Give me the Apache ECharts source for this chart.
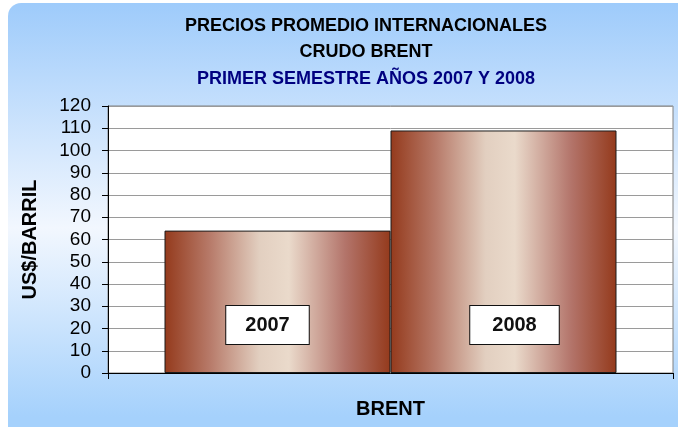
<!DOCTYPE html>
<html>
<head>
<meta charset="utf-8">
<script src="https://cdn.jsdelivr.net/npm/echarts@6/dist/echarts.min.js"></script>
<style>
  html, body { margin: 0; padding: 0; background: #fff; }
  #chart { width: 678px; height: 427px; }
</style>
</head>
<body>
<div id="chart"></div>
<script>
// datos del grafico
const categories = ["BRENT"];
const years = ["2007", "2008"];
const brent2007 = [64];
const brent2008 = [109];
const yMin = 0;
const yMax = 120;
const yStep = 10;

const titleLines = [
  "PRECIOS PROMEDIO INTERNACIONALES",
  "CRUDO BRENT",
  "PRIMER SEMESTRE AÑOS 2007 Y 2008"
];

const font = "'Liberation Sans', Arial, sans-serif";

// degradado horizontal de las barras
const barFill = new echarts.graphic.LinearGradient(0, 0, 1, 0, [
  { offset: 0, color: "#943a1c" },
  { offset: 0.2, color: "#b77a69" },
  { offset: 0.42, color: "#e2cfc0" },
  { offset: 0.55, color: "#eadacb" },
  { offset: 0.8, color: "#b3746a" },
  { offset: 1, color: "#943a1c" }
]);

function yearLabel(offsetX, padX) {
  return {
    show: true,
    position: "insideBottom",
    distance: 29,
    offset: [offsetX, 0],
    formatter: "{a}",
    fontFamily: font,
    fontWeight: "bold",
    fontSize: 20,
    lineHeight: 20,
    color: "#111",
    backgroundColor: "#fff",
    borderColor: "#111",
    borderWidth: 1,
    padding: [9, padX]
  };
}

const chart = echarts.init(document.getElementById("chart"));
chart.setOption({
  backgroundColor: "#fff",
  animation: false,
  graphic: [
    {
      type: "rect",
      z: -10,
      shape: { x: 8, y: 3, width: 690, height: 450, r: 13 },
      style: {
        fill: new echarts.graphic.LinearGradient(0, 0, 0, 1, [
          { offset: 0, color: "#9ecbfb" },
          { offset: 0.5, color: "#f2f7fe" },
          { offset: 0.92, color: "#a5d1fc" },
          { offset: 1, color: "#a5d1fc" }
        ])
      },
      silent: true
    }
  ],
  title: titleLines.map((t, i) => ({
    text: t,
    left: 361,
    top: 12 + i * 26.5,
    textAlign: "center",
    textStyle: {
      fontFamily: font,
      fontWeight: "bold",
      fontSize: 18,
      color: i === 2 ? "#000080" : "#000"
    }
  })),
  grid: {
    left: 108,
    right: 5,
    top: 106,
    bottom: 54,
    outerBoundsMode: "none",
    containLabel: false,
    show: true,
    backgroundColor: "#fff",
    borderColor: "#808080",
    borderWidth: 1
  },
  xAxis: {
    type: "category",
    data: categories,
    name: "BRENT",
    nameLocation: "middle",
    nameGap: 26,
    nameTextStyle: { fontFamily: font, fontWeight: "bold", fontSize: 20, color: "#000" },
    axisLine: { lineStyle: { color: "#000", width: 1 } },
    axisTick: { show: true, length: 6, lineStyle: { color: "#000" } },
    axisLabel: { show: false }
  },
  yAxis: {
    type: "value",
    min: yMin,
    max: yMax,
    interval: yStep,
    name: "US$/BARRIL",
    nameLocation: "middle",
    nameGap: 68,
    nameTextStyle: { fontFamily: font, fontWeight: "bold", fontSize: 20, color: "#000" },
    axisLine: { show: true, lineStyle: { color: "#000", width: 1 } },
    axisTick: { show: true, length: 6, lineStyle: { color: "#000" } },
    axisLabel: { fontFamily: font, fontSize: 19, color: "#000", margin: 17 },
    splitLine: { lineStyle: { color: "#9a9a9a", width: 1 } }
  },
  series: [
    {
      name: years[0],
      type: "bar",
      data: brent2007,
      barGap: "0%",
      barCategoryGap: "20%",
      itemStyle: { color: barFill, borderColor: "#1a1a1a", borderWidth: 1 },
      label: yearLabel(-10, 19)
    },
    {
      name: years[1],
      type: "bar",
      data: brent2008,
      barGap: "0%",
      barCategoryGap: "20%",
      itemStyle: { color: barFill, borderColor: "#1a1a1a", borderWidth: 1 },
      label: yearLabel(11, 22)
    }
  ]
});
</script>
</body>
</html>
